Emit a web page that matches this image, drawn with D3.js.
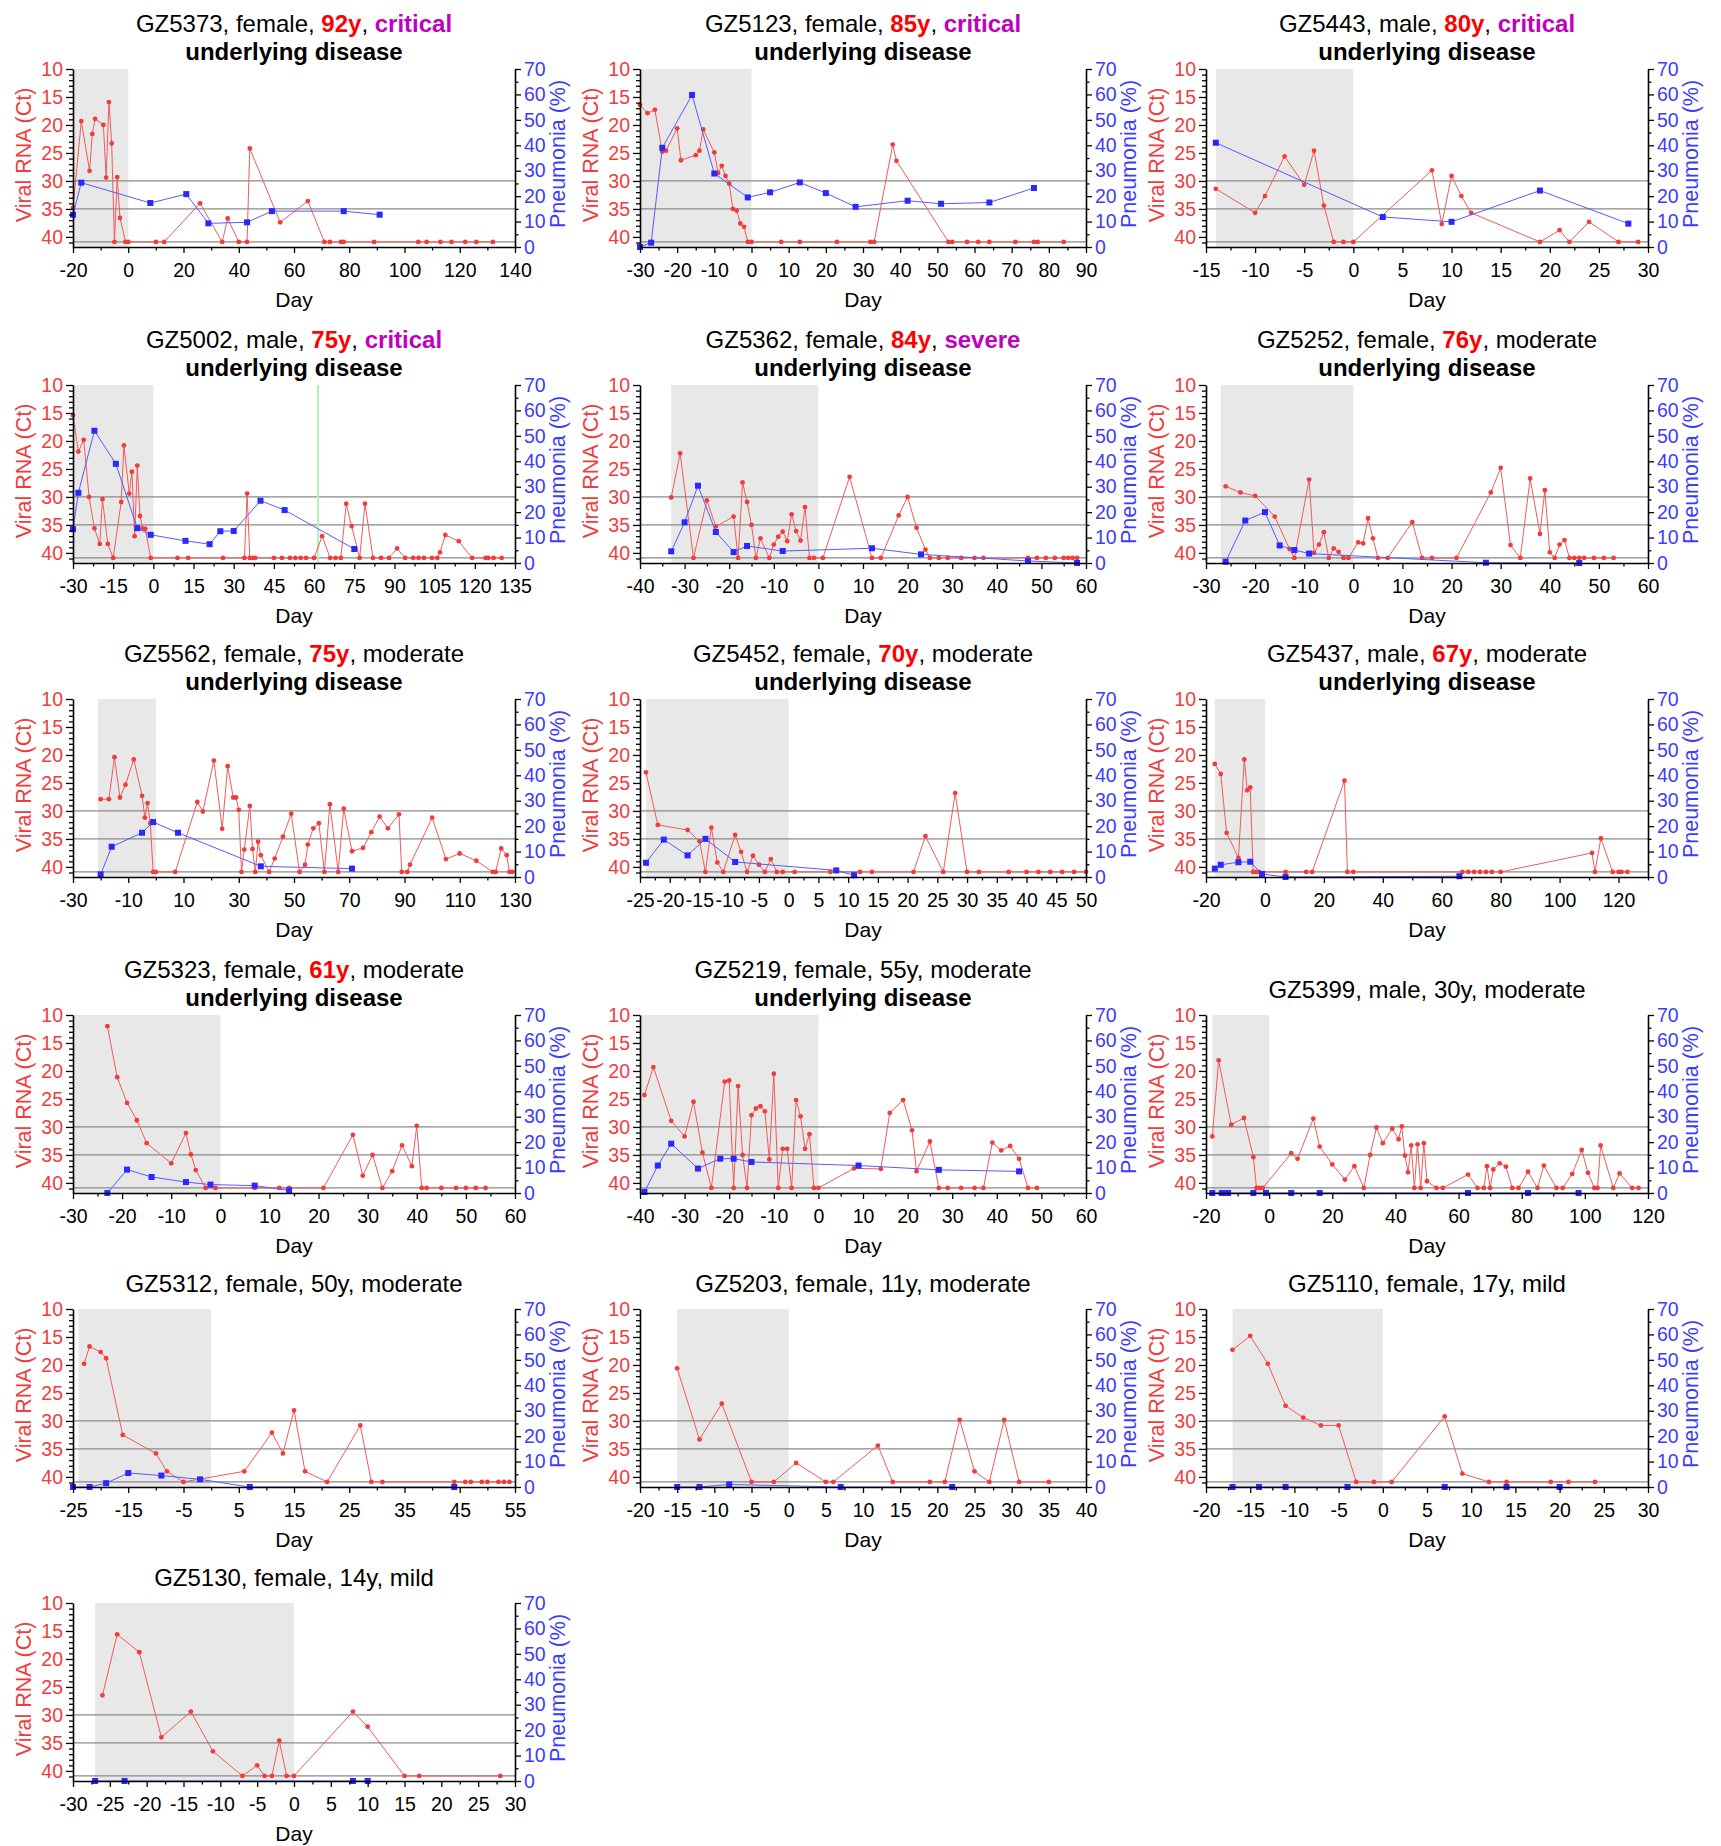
<!DOCTYPE html>
<html>
<head>
<meta charset="utf-8">
<script src="https://cdn.jsdelivr.net/npm/d3@7/dist/d3.min.js"></script>
<style>
  body { margin: 0; background: #fff; }
  svg { font-family: "Liberation Sans", Arial, sans-serif; }
</style>
</head>
<body>
<svg id="fig" width="1721" height="1846"></svg>
<script>
'use strict';

var N = null; // negative sample: drawn on the detection-limit line

// panel labels
var ids = ['GZ5373', 'GZ5123', 'GZ5443', 'GZ5002', 'GZ5362', 'GZ5252', 'GZ5562', 'GZ5452',
  'GZ5437', 'GZ5323', 'GZ5219', 'GZ5399', 'GZ5312', 'GZ5203', 'GZ5110', 'GZ5130'];
var sexes = ['female', 'female', 'male', 'male', 'female', 'female', 'female', 'female',
  'male', 'female', 'female', 'male', 'female', 'female', 'female', 'female'];
var ages = [92, 85, 80, 75, 84, 76, 75, 70, 67, 61, 55, 30, 50, 11, 17, 14];
var severities = ['critical', 'critical', 'critical', 'critical', 'severe', 'moderate', 'moderate', 'moderate',
  'moderate', 'moderate', 'moderate', 'moderate', 'moderate', 'moderate', 'mild', 'mild'];
var underlying = [1, 1, 1, 1, 1, 1, 1, 1, 1, 1, 1, 0, 0, 0, 0, 0];

// x axis per panel
var xMins = [-20, -30, -15, -30, -40, -30, -30, -25, -20, -30, -40, -20, -25, -20, -20, -30];
var xMaxs = [140, 90, 30, 135, 60, 60, 130, 50, 130, 60, 60, 120, 55, 40, 30, 30];
var xSteps = [20, 10, 5, 15, 10, 10, 20, 5, 20, 10, 10, 20, 10, 5, 5, 5];
var shadeFrom = [-20, -30, -14, -30, -33, -27, -21, -24, -17, -30, -40, -18, -24, -15, -17, -27];
var greenDay = [N, N, N, 61.5, N, N, N, N, N, N, N, N, N, N, N, N];

var ctTicks = [10, 15, 20, 25, 30, 35, 40];
var pnTicks = [0, 10, 20, 30, 40, 50, 60, 70];
var refLines = [30, 35];

// GZ5373
var d5373 = [-20, -17, -14, -13, -12, -9, -8, -7, -6, -5, -4, -3, -1, 0, 10, 13, 26, 34, 36, 40, 43, 44, 55, 65, 71, 73, 77, 78, 89, 105, 108, 113, 117, 122, 126, 132];
var ct5373 = [34.8, 19.3, 28.2, 21.6, 18.9, 20.0, 29.4, 15.9, 23.3, N, 29.3, 36.6, N, N, N, N, 34.0, N, 36.7, N, N, 24.2, 37.4, 33.6, N, N, N, N, N, N, N, N, N, N, N, N];
var pd5373 = [-20, -17, 8, 21, 29, 43, 52, 78, 91];
var pn5373 = [12.7, 25.3, 17.3, 20.8, 9.3, 9.7, 14.1, 14.1, 12.7];

// GZ5123
var d5123 = [-30, -28, -26, -24, -23, -20, -19, -15, -14, -13, -10, -9, -8, -7, -6, -5, -4, -3, -2, -1, 0, 8, 13, 23, 32, 33, 38, 39, 53, 54, 58, 61, 64, 71, 76, 77, 84];
var ct5123 = [16.4, 17.9, 17.3, 24.8, 24.6, 20.6, 26.3, 25.4, 24.6, 20.8, 24.9, 28.6, 27.3, 29.1, 30.5, 35.0, 35.3, 37.6, 38.2, N, N, N, N, N, N, N, 23.5, 26.4, N, N, N, N, N, N, N, N, N];
var pd5123 = [-30, -27, -24, -16, -10, -1, 5, 13, 20, 28, 42, 51, 64, 76];
var pn5123 = [0, 1.7, 39, 59.8, 28.9, 19.5, 21.5, 25.4, 21.2, 15.8, 18.2, 17.0, 17.5, 23.2];

// GZ5443
var d5443 = [-14, -10, -9, -7, -5, -4, -3, -2, -1, 0, 8, 9, 10, 11, 12, 19, 21, 22, 24, 27, 29];
var ct5443 = [31.4, 35.7, 32.7, 25.6, 30.7, 24.6, 34.4, N, N, N, 28.1, 37.7, 29.1, 32.7, 35.7, N, 38.8, N, 37.3, N, N];
var pd5443 = [-14, 3, 10, 19, 28];
var pn5443 = [41.0, 11.8, 9.9, 22.2, 9.2];

// GZ5002
var d5002 = [-30, -28, -26, -24, -22, -20, -19, -17, -15, -12, -11, -9, -8, -7, -6, -5, -4, -3, -1, 9, 13, 26, 34, 35, 36, 37, 38, 45, 48, 51, 53, 55, 57, 60, 63, 66, 68, 70, 72, 74, 77, 79, 82, 85, 88, 91, 94, 97, 99, 101, 104, 106, 107, 109, 114, 119, 124, 125, 127, 130];
var ct5002 = [15.4, 21.9, 19.8, 30.0, 35.6, 38.4, 30.4, 38.4, N, 30.9, 20.8, 29.4, 25.5, 37.0, 24.4, 33.4, 35.6, 35.7, N, N, N, N, N, 29.4, N, N, N, N, N, N, N, N, N, N, 37.0, N, N, N, 31.2, 35.2, N, 31.2, N, N, N, 39.2, N, N, N, N, N, N, 39.9, 36.8, 37.9, N, N, N, N, N];
var pd5002 = [-30, -28, -22, -14, -6, -1, 12, 21, 25, 30, 40, 49, 75];
var pn5002 = [13.3, 27.6, 52.0, 39.0, 13.7, 11.1, 8.7, 7.4, 12.5, 12.6, 24.5, 20.8, 5.5];

// GZ5362
var d5362 = [-33, -31, -28, -25, -23, -19, -18, -17, -16, -15, -14, -13, -11, -10, -9, -8, -7, -6, -5, -4, -3, -2, -1, 1, 7, 12, 14, 18, 20, 22, 24, 25, 27, 29, 32, 35, 37, 47, 49, 51, 53, 55, 56, 57, 58];
var ct5362 = [30.1, 22.2, N, 30.6, 35.3, 33.5, N, 27.4, 30.9, 35.0, N, 37.4, N, 38.5, 37.1, 36.2, 37.9, 33.1, 36.1, 37.8, 31.8, N, N, N, 26.4, N, N, 33.3, 30.0, 35.5, 39.4, N, N, N, N, N, N, N, N, N, N, N, N, N, N];
var pd5362 = [-33, -30, -27, -23, -19, -16, -8, 12, 23, 47, 58];
var pn5362 = [4.6, 16.0, 30.4, 12.2, 4.3, 6.7, 4.7, 5.8, 3.4, 0.8, 0];

// GZ5252
var d5252 = [-26, -23, -20, -16, -13, -12, -9, -8, -7, -6, -5, -4, -3, -2, -1, 1, 2, 3, 4, 5, 7, 12, 14, 16, 21, 28, 30, 32, 34, 36, 38, 39, 40, 41, 42, 43, 44, 45, 46, 47, 49, 51, 53];
var ct5252 = [28.1, 29.2, 29.8, 33.5, 39.3, N, 26.9, 40.0, 38.5, 36.3, N, 39.2, 39.8, N, N, 38.1, 38.3, 33.8, 37.4, N, N, 34.5, N, N, N, 29.2, 24.8, 38.6, N, 26.7, 36.6, 28.8, 39.9, N, 38.5, 37.7, N, N, N, N, N, N, N];
var pd5252 = [-26, -22, -18, -15, -12, -9, 27, 46];
var pn5252 = [0.5, 16.7, 20.0, 6.9, 5.1, 3.7, 0.1, 0];

// GZ5562
var d5562 = [-20, -17, -15, -13, -11, -8, -5, -4, -3, -2, -1, 0, 7, 15, 17, 21, 24, 26, 28, 29, 30, 31, 32, 34, 35, 36, 37, 38, 41, 43, 46, 49, 52, 54, 55, 57, 59, 61, 63, 66, 68, 71, 75, 78, 81, 84, 88, 89, 91, 92, 100, 105, 110, 116, 122, 123, 125, 127, 128, 129];
var ct5562 = [27.9, 27.9, 20.4, 27.6, 25.3, 20.8, 27.3, 31.2, 28.6, 32.2, N, N, N, 28.4, 30.1, 21.0, 33.2, 22.0, 27.6, 27.6, 29.8, N, 36.9, 29.1, 36.8, N, 35.5, 37.9, N, 38.5, 34.6, 30.5, N, 39.6, 36.0, 33.1, 32.2, N, 28.8, N, 29.6, 37.2, 36.6, 33.8, 31.0, 33.1, 30.6, N, N, 39.6, 31.2, 38.6, 37.6, 38.9, N, N, 36.7, 37.9, N, N];
var pd5562 = [-20, -16, -5, -1, 8, 38, 71];
var pn5562 = [1.0, 11.9, 17.4, 21.6, 17.4, 4.2, 3.3];

// GZ5452
var d5452 = [-24, -22, -17, -15, -14, -13, -12, -11, -9, -8, -7, -6, -5, -4, -3, -2, -1, 1, 7, 12, 14, 21, 23, 26, 28, 30, 32, 37, 40, 42, 44, 46, 48, 50];
var ct5452 = [23.1, 32.5, 33.4, 35.4, N, 33.0, 39.2, N, 34.3, 37.3, N, 38.0, 39.6, N, 38.6, N, N, N, N, N, N, N, 34.5, N, 26.8, N, N, N, N, N, N, N, N, N];
var pd5452 = [-24, -21, -17, -14, -9, 8, 11];
var pn5452 = [5.6, 14.7, 8.5, 15.0, 5.9, 2.6, 0.7];

// GZ5437
var d5437 = [-17, -15, -13, -9, -7, -6, -5, -4, -3, -2, 7, 14, 16, 27, 28, 30, 67, 69, 71, 73, 75, 77, 80, 111, 112, 114, 118, 120, 121, 123];
var ct5437 = [21.6, 23.4, 33.9, 38.4, 20.8, 26.3, 25.8, N, N, N, N, N, N, 24.6, N, N, N, N, N, N, N, N, N, 37.5, N, 34.9, N, N, N, N];
var pd5437 = [-17, -15, -9, -5, -1, 7, 66];
var pn5437 = [3.3, 4.8, 5.8, 6.0, 1.2, 0, 0.3];

// GZ5323
var d5323 = [-23, -21, -19, -17, -15, -10, -7, -6, -5, -3, -1, 7, 12, 14, 21, 27, 29, 31, 33, 35, 37, 39, 40, 41, 42, 45, 48, 50, 52, 54];
var ct5323 = [12.0, 21.1, 25.7, 28.8, 32.9, 36.5, 31.1, 34.9, 37.7, N, N, N, N, N, N, 31.4, 38.7, 35.0, N, 37.9, 33.3, 37.0, 29.8, N, N, N, N, N, N, N];
var pd5323 = [-23, -19, -14, -7, -2, 7, 14];
var pn5323 = [0, 9.2, 6.3, 4.3, 3.3, 2.9, 1.0];

// GZ5219
var d5219 = [-39, -37, -33, -30, -28, -26, -24, -21, -20, -19, -18, -17, -16, -15, -14, -13, -12, -11, -10, -9, -8, -7, -6, -5, -4, -3, -2, -1, 0, 8, 14, 16, 19, 21, 22, 25, 27, 29, 32, 35, 37, 39, 41, 43, 45, 47, 49];
var ct5219 = [24.3, 19.3, 28.9, 31.7, 25.5, 34.6, N, 21.9, 21.7, N, 22.7, 35.0, N, 27.9, 26.7, 26.3, 27.2, 35.8, 20.5, N, 33.9, 33.9, N, 25.2, 28.1, 33.9, 31.3, N, N, 37.4, 37.5, 27.5, 25.2, 30.6, 37.9, 32.6, N, N, N, N, N, 32.8, 34.2, 33.4, 35.7, N, N];
var pd5219 = [-39, -36, -33, -27, -22, -19, -15, 9, 27, 45];
var pn5219 = [0.4, 10.8, 19.4, 9.6, 13.5, 13.5, 12.2, 10.8, 9.1, 8.5];

// GZ5399
var d5399 = [-18, -16, -12, -8, -5, -4, -3, -2, 7, 9, 14, 16, 20, 24, 27, 30, 32, 34, 36, 39, 41, 42, 43, 44, 45, 46, 47, 48, 49, 50, 53, 55, 63, 66, 68, 69, 70, 71, 73, 75, 77, 79, 82, 85, 87, 91, 93, 96, 99, 101, 103, 104, 105, 109, 111, 115, 117];
var ct5399 = [31.7, 18.1, 29.6, 28.4, 35.4, N, N, N, 34.7, 35.7, 28.5, 33.5, 36.7, 39.4, 37.0, N, 35.0, 30.1, 32.9, 30.3, 32.2, 29.9, 35.1, 38.1, 33.3, N, 33.1, N, 32.9, 39.7, N, N, 38.5, N, N, 37.0, N, 37.6, 36.5, 37.1, N, N, 38.0, N, 36.9, N, N, 38.4, 34.1, 38.2, N, N, 33.3, N, 38.3, N, N];
var pd5399 = [-18, -15, -14, -13, -5, -1, 7, 16, 63, 82, 98];
var pn5399 = [0, 0, 0, 0, 0, 0, 0, 0, 0, 0, 0];

// GZ5312
var d5312 = [-23, -22, -20, -19, -16, -10, -8, -5, 6, 11, 13, 15, 17, 21, 27, 29, 31, 44, 46, 47, 49, 50, 52, 53, 54];
var ct5312 = [19.8, 16.7, 17.7, 18.8, 32.5, 35.8, 39.0, N, 39.0, 32.1, 35.8, 28.1, 39.0, N, 30.8, N, N, N, N, N, N, N, N, N, N];
var pd5312 = [-25, -22, -19, -15, -9, -2, 7, 44];
var pn5312 = [0, 0, 1.5, 5.5, 4.5, 3, 0, 0];

// GZ5203
var d5203 = [-15, -12, -9, -5, -2, 1, 5, 6, 12, 14, 19, 21, 23, 25, 27, 29, 31, 35];
var ct5203 = [20.6, 33.3, 26.9, N, N, 37.5, N, N, 34.4, N, N, N, 29.8, 39.0, N, 29.8, N, N];
var pd5203 = [-15, -12, -8, 7, 22];
var pn5203 = [0, 0, 1, 0, 0];

// GZ5110
var d5110 = [-17, -15, -13, -11, -9, -7, -5, -3, -1, 1, 7, 9, 12, 14, 19, 21, 24];
var ct5110 = [17.3, 14.8, 19.8, 27.3, 29.4, 30.8, 30.8, N, N, N, 29.2, 39.4, N, N, N, N, N];
var pd5110 = [-17, -14, -11, -4, 7, 14, 20];
var pn5110 = [0, 0, 0, 0, 0, 0, 0];

// GZ5130
var d5130 = [-26, -24, -21, -18, -14, -11, -7, -5, -4, -3, -2, -1, 0, 8, 10, 15, 17, 28];
var ct5130 = [26.5, 15.6, 18.8, 34.0, 29.4, 36.5, N, 39.0, N, N, 34.6, N, N, 29.4, 32.1, N, N, N];
var pd5130 = [-27, -23, 8, 10];
var pn5130 = [0, 0, 0, 0];

var ctDays = [d5373, d5123, d5443, d5002, d5362, d5252, d5562, d5452, d5437, d5323, d5219, d5399, d5312, d5203, d5110, d5130];
var ctVals = [ct5373, ct5123, ct5443, ct5002, ct5362, ct5252, ct5562, ct5452, ct5437, ct5323, ct5219, ct5399, ct5312, ct5203, ct5110, ct5130];
var pnDays = [pd5373, pd5123, pd5443, pd5002, pd5362, pd5252, pd5562, pd5452, pd5437, pd5323, pd5219, pd5399, pd5312, pd5203, pd5110, pd5130];
var pnVals = [pn5373, pn5123, pn5443, pn5002, pn5362, pn5252, pn5562, pn5452, pn5437, pn5323, pn5219, pn5399, pn5312, pn5203, pn5110, pn5130];

// layout
var colLeft = [73, 640, 1206];
var colWidth = [442, 446, 442];
var rowTop = [69, 385, 699, 1015, 1309, 1603];
var plotH = 178;
var CT_TOP = 10, CT_BOTTOM = 41.8, LOD = 40.9;

var RED = '#f23c3c', BLUE = '#3c3cff';
var svg = d3.select('#fig');

function fmt(d) { return String(d); }

ids.forEach(function (id, i) {
  var col = i % 3, row = Math.floor(i / 3);
  var w = colWidth[col];
  var g = svg.append('g').attr('transform', 'translate(' + colLeft[col] + ',' + rowTop[row] + ')');

  var x = d3.scaleLinear().domain([xMins[i], xMaxs[i]]).range([0, w]);
  var y = d3.scaleLinear().domain([CT_TOP, CT_BOTTOM]).range([0, plotH]);
  var y2 = d3.scaleLinear().domain([0, 70]).range([plotH, 0]);

  // shaded period before day 0
  g.append('rect')
    .attr('x', x(shadeFrom[i])).attr('y', 0)
    .attr('width', x(0) - x(shadeFrom[i])).attr('height', plotH)
    .attr('fill', '#e8e8e8');

  // reference lines
  refLines.concat([LOD]).forEach(function (v) {
    g.append('line')
      .attr('x1', 0).attr('x2', w)
      .attr('y1', y(v)).attr('y2', y(v))
      .attr('stroke', '#8a8a8a').attr('stroke-width', 1.3);
  });

  if (greenDay[i] !== N) {
    g.append('line')
      .attr('x1', x(greenDay[i])).attr('x2', x(greenDay[i]))
      .attr('y1', 0).attr('y2', plotH)
      .attr('stroke', '#b4f0b4').attr('stroke-width', 2);
  }

  // viral RNA
  var ctPts = ctDays[i].map(function (d, k) {
    return [d, ctVals[i][k] === N ? LOD : ctVals[i][k]];
  });
  g.append('path')
    .attr('d', d3.line().x(function (p) { return x(p[0]); }).y(function (p) { return y(p[1]); })(ctPts))
    .attr('fill', 'none').attr('stroke', '#f25a5a').attr('stroke-width', 1);
  g.selectAll('circle.ct').data(ctPts).enter().append('circle')
    .attr('class', 'ct')
    .attr('cx', function (p) { return x(p[0]); })
    .attr('cy', function (p) { return y(p[1]); })
    .attr('r', 2.4).attr('fill', RED);

  // pneumonia
  var pnPts = pnDays[i].map(function (d, k) { return [d, pnVals[i][k]]; });
  g.append('path')
    .attr('d', d3.line().x(function (p) { return x(p[0]); }).y(function (p) { return y2(p[1]); })(pnPts))
    .attr('fill', 'none').attr('stroke', '#5a5aff').attr('stroke-width', 1);
  g.selectAll('rect.pn').data(pnPts).enter().append('rect')
    .attr('class', 'pn')
    .attr('x', function (p) { return x(p[0]) - 3; })
    .attr('y', function (p) { return y2(p[1]) - 3; })
    .attr('width', 6).attr('height', 6).attr('fill', '#2828ff');

  // axes
  var step = xSteps[i];
  var major = d3.range(xMins[i], xMaxs[i] + 0.001, step);
  var minor = d3.range(xMins[i] + step / 2, xMaxs[i] + 0.001, step);

  var gx = g.append('g').attr('transform', 'translate(0,' + plotH + ')')
    .call(d3.axisBottom(x).tickValues(major).tickFormat(fmt).tickSize(6).tickPadding(10).tickSizeOuter(0));
  g.append('g').attr('transform', 'translate(0,' + plotH + ')')
    .call(d3.axisBottom(x).tickValues(minor).tickFormat('').tickSize(3.5).tickSizeOuter(0))
    .select('.domain').remove();
  gx.selectAll('text').attr('fill', '#000');

  var gl = g.append('g')
    .call(d3.axisLeft(y).tickValues(ctTicks).tickFormat(fmt).tickSize(7).tickPadding(3).tickSizeOuter(0));
  g.append('g')
    .call(d3.axisLeft(y).tickValues(d3.range(11, 42, 1).filter(function (v) { return v % 5 !== 0; }))
      .tickFormat('').tickSize(4).tickSizeOuter(0))
    .select('.domain').remove();
  gl.selectAll('text').attr('fill', RED);

  var gr = g.append('g').attr('transform', 'translate(' + w + ',0)')
    .call(d3.axisRight(y2).tickValues(pnTicks).tickFormat(fmt).tickSize(6).tickPadding(3).tickSizeOuter(0));
  g.append('g').attr('transform', 'translate(' + w + ',0)')
    .call(d3.axisRight(y2).tickValues([5, 15, 25, 35, 45, 55, 65]).tickFormat('').tickSize(3.5).tickSizeOuter(0))
    .select('.domain').remove();
  gr.selectAll('text').attr('fill', BLUE);

  g.selectAll('.tick line').attr('stroke', '#000').attr('stroke-width', 1.3);
  g.selectAll('.domain').attr('stroke', '#000').attr('stroke-width', 1.6);
  g.selectAll('.tick text').attr('font-size', 19.5).attr('font-family', '"Liberation Sans", Arial, sans-serif');

  // axis titles
  g.append('text')
    .attr('transform', 'translate(-49,' + (plotH / 2 - 3) + ') rotate(-90)')
    .attr('text-anchor', 'middle').attr('dominant-baseline', 'central')
    .attr('font-size', 21.5).attr('fill', RED)
    .text('Viral RNA (Ct)');
  g.append('text')
    .attr('transform', 'translate(' + (w + 43) + ',' + (plotH / 2 - 4) + ') rotate(-90)')
    .attr('text-anchor', 'middle').attr('dominant-baseline', 'central')
    .attr('font-size', 21.5).attr('fill', BLUE)
    .text('Pneumonia (%)');
  g.append('text')
    .attr('x', w / 2).attr('y', plotH + 60)
    .attr('text-anchor', 'middle').attr('font-size', 21).attr('fill', '#000')
    .text('Day');

  // title
  var t = g.append('text')
    .attr('x', w / 2).attr('y', underlying[i] ? -37 : -17)
    .attr('text-anchor', 'middle').attr('font-size', 24).attr('fill', '#000');
  t.append('tspan').text(id + ', ' + sexes[i] + ', ');
  var old = ages[i] >= 60;
  t.append('tspan').text(ages[i] + 'y')
    .attr('font-weight', old ? 'bold' : null).attr('fill', old ? '#ff0000' : '#000');
  t.append('tspan').text(', ');
  var bad = severities[i] === 'critical' || severities[i] === 'severe';
  t.append('tspan').text(severities[i])
    .attr('font-weight', bad ? 'bold' : null).attr('fill', bad ? '#bf00bf' : '#000');
  if (underlying[i]) {
    g.append('text')
      .attr('x', w / 2).attr('y', -9)
      .attr('text-anchor', 'middle').attr('font-size', 24).attr('font-weight', 'bold').attr('fill', '#000')
      .text('underlying disease');
  }
});
</script>
</body>
</html>
